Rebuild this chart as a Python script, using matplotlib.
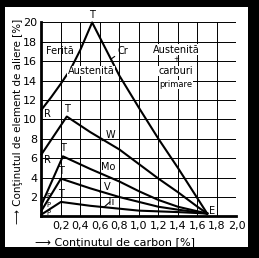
import matplotlib
matplotlib.use("Agg")
import matplotlib.pyplot as plt
from matplotlib.patches import Rectangle

# ---- data ----
cr_x = [0.0, 0.1, 0.2, 0.3, 0.4, 0.52, 0.8, 1.0, 1.2, 1.4, 1.7]
cr_y = [11.0, 12.3, 13.7, 15.2, 17.2, 20.0, 14.5, 11.2, 8.0, 5.0, 0.3]
w_x = [0.0, 0.26, 0.5, 0.8, 1.0, 1.2, 1.4, 1.6, 1.7]
w_y = [6.4, 10.3, 8.7, 6.9, 5.4, 3.9, 2.5, 1.0, 0.3]
mo_x = [0.0, 0.22, 0.5, 0.8, 1.0, 1.2, 1.4, 1.7]
mo_y = [1.2, 6.2, 4.9, 3.6, 2.6, 1.7, 1.0, 0.3]
v_x = [0.0, 0.2, 0.5, 0.8, 1.0, 1.2, 1.4, 1.7]
v_y = [0.6, 3.9, 2.9, 2.0, 1.5, 1.0, 0.7, 0.3]
ti_x = [0.0, 0.2, 0.5, 0.8, 1.0, 1.4, 1.7]
ti_y = [0.2, 1.5, 1.1, 0.8, 0.6, 0.45, 0.3]

x_ticks = [0.2, 0.4, 0.6, 0.8, 1.0, 1.2, 1.4, 1.6, 1.8, 2.0]
x_tick_labels = ["0,2", "0,4", "0,6", "0,8", "1,0", "1,2", "1,4", "1,6", "1,8", "2,0"]
y_ticks = [2, 4, 6, 8, 10, 12, 14, 16, 18, 20]
y_tick_labels = [str(v) for v in y_ticks]

fig = plt.figure(figsize=(2.59, 2.58), dpi=100, facecolor="black")
bg = fig.add_axes([0, 0, 1, 1], zorder=-5)
bg.set_axis_off()
bg.set_xlim(0, 1)
bg.set_ylim(0, 1)
bg.add_patch(Rectangle((0.019, 0.043), 0.939, 0.930, facecolor="white", edgecolor="none"))

ax = fig.add_axes([0.160, 0.161, 0.753, 0.752], zorder=1)
ax.set_facecolor("white")
ax.set_xlim(0, 2.0)
ax.set_ylim(0, 20)

# grid
for xv in x_ticks:
    ax.axvline(xv, color="black", lw=0.7, zorder=1)
for yv in y_ticks:
    ax.axhline(yv, color="black", lw=0.7, zorder=1)

for s in ["top", "right"]:
    ax.spines[s].set_visible(False)
ax.spines["left"].set_linewidth(2.0)
ax.spines["bottom"].set_linewidth(2.0)

ax.set_xticks(x_ticks)
ax.set_xticklabels(x_tick_labels, fontsize=8)
ax.set_yticks(y_ticks)
ax.set_yticklabels(y_tick_labels, fontsize=8)
ax.tick_params(length=0, pad=3)

lw = 1.5
for xs, ys in [(cr_x, cr_y), (w_x, w_y), (mo_x, mo_y), (v_x, v_y), (ti_x, ti_y)]:
    ax.plot(xs, ys, color="black", lw=lw, zorder=3, clip_on=False)

fs = 7
# T labels at peaks
for xs, ys in [(cr_x, cr_y), (w_x, w_y), (mo_x, mo_y), (v_x, v_y), (ti_x, ti_y)]:
    i = ys.index(max(ys))
    ax.text(xs[i], ys[i] + 0.3, "T", fontsize=fs, ha="center", va="bottom", zorder=4)

ax.text(0.03, 10.6, "R", fontsize=fs, ha="left", va="center", zorder=4)
ax.text(0.03, 5.8, "R", fontsize=fs, ha="left", va="center", zorder=4)
for yv in [2.1, 1.2, 0.4]:
    ax.text(0.05, yv, "P", fontsize=5, ha="left", va="center", zorder=4)

# curve labels with leader lines
ax.annotate("Cr", xy=(0.71, 16.2), xytext=(0.78, 17.1), fontsize=fs, va="center",
            arrowprops=dict(arrowstyle="-", lw=0.8, shrinkA=0, shrinkB=0), zorder=4)
ax.annotate("W", xy=(0.62, 7.8), xytext=(0.66, 8.4), fontsize=fs, va="center",
            arrowprops=dict(arrowstyle="-", lw=0.8, shrinkA=0, shrinkB=0), zorder=4)
ax.text(0.61, 5.1, "Mo", fontsize=fs, va="center", zorder=4)
ax.annotate("V", xy=(0.6, 2.5), xytext=(0.64, 3.0), fontsize=fs, va="center",
            arrowprops=dict(arrowstyle="-", lw=0.8, shrinkA=0, shrinkB=0), zorder=4)
ax.annotate("Ti", xy=(0.64, 0.95), xytext=(0.66, 1.5), fontsize=fs, va="center",
            arrowprops=dict(arrowstyle="-", lw=0.8, shrinkA=0, shrinkB=0), zorder=4)
ax.text(1.72, 0.6, "E", fontsize=fs, va="center", zorder=4)

# region labels
ax.text(0.05, 17.1, "Ferită", fontsize=fs, va="center", zorder=4)
ax.text(0.51, 15.0, "Austenită", fontsize=fs, ha="center", va="center", zorder=4,
        bbox=dict(facecolor="white", edgecolor="none", pad=0.3))
ax.text(1.38, 17.2, "Austenită", fontsize=fs, ha="center", va="center", zorder=4,
        bbox=dict(facecolor="white", edgecolor="none", pad=0.3))
ax.text(1.38, 16.2, "+", fontsize=5, ha="center", va="center", zorder=4)
ax.text(1.38, 15.0, "carburi", fontsize=fs, ha="center", va="center", zorder=4,
        bbox=dict(facecolor="white", edgecolor="none", pad=0.3))
ax.text(1.38, 13.6, "primare", fontsize=6, ha="center", va="center", zorder=4,
        bbox=dict(facecolor="white", edgecolor="none", pad=0.3))

fig.text(0.444, 0.058, "⟶ Conţinutul de carbon [%]", fontsize=8, ha="center", va="center")
fig.text(0.068, 0.53, "⟶ Conţinutul de element de aliere [%]", fontsize=7.5,
         ha="center", va="center", rotation=90)

fig.savefig("out.png", dpi=100, facecolor="black")
